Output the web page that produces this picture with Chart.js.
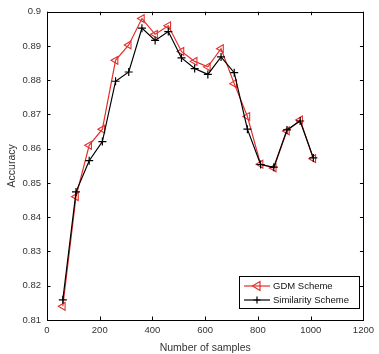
<!DOCTYPE html>
<html>
<head>
<meta charset="utf-8">
<script src="https://cdn.jsdelivr.net/npm/chart.js@4"></script>
<style>
  html, body { margin: 0; padding: 0; background: #fff; }
  #wrap { width: 379px; height: 354px; }
</style>
</head>
<body>
<div id="wrap"><canvas id="chart" width="379" height="354"></canvas></div>
<script>
// --- DATA ---
const samples = [60, 110, 160, 210, 260, 310, 360, 410, 460, 510, 560, 610, 660, 710, 760, 810, 860, 910, 960, 1010];
const gdmScheme = [0.814, 0.846, 0.861, 0.8657, 0.8858, 0.8903, 0.898, 0.8934, 0.8959, 0.8884, 0.8855, 0.8839, 0.8892, 0.879, 0.8694, 0.8555, 0.8544, 0.8652, 0.8684, 0.8571];
const similarityScheme = [0.8159, 0.8474, 0.8565, 0.8621, 0.8797, 0.8824, 0.8952, 0.8916, 0.8942, 0.8865, 0.8834, 0.8817, 0.8868, 0.8822, 0.8657, 0.8554, 0.8546, 0.8655, 0.8681, 0.8573];
const xTicks = [0, 200, 400, 600, 800, 1000, 1200];
const yTicks = [0.81, 0.82, 0.83, 0.84, 0.85, 0.86, 0.87, 0.88, 0.89, 0.9];
const seriesNames = ['GDM Scheme', 'Similarity Scheme'];

const RED = '#e3302c';
const FONT = 'Liberation Sans, Arial, sans-serif';
const TEXT = '#333';

function toPoints(ys) {
    return samples.map((x, i) => ({ x: x, y: ys[i] }));
}

// box around the plot, inward ticks on all four sides, and the legend
const matlabBox = {
    id: 'matlabBox',
    afterDraw(chart) {
        const ctx = chart.ctx;
        const a = chart.chartArea;
        const xs = chart.scales.x, ys = chart.scales.y;
        const tl = 3.5;
        ctx.save();
        ctx.strokeStyle = '#000';
        ctx.lineWidth = 1;
        ctx.beginPath();
        xTicks.forEach(v => {
            const px = Math.round(xs.getPixelForValue(v)) + 0.5;
            ctx.moveTo(px, a.bottom); ctx.lineTo(px, a.bottom - tl);
            ctx.moveTo(px, a.top); ctx.lineTo(px, a.top + tl);
        });
        yTicks.forEach(v => {
            const py = Math.round(ys.getPixelForValue(v)) + 0.5;
            ctx.moveTo(a.left, py); ctx.lineTo(a.left + tl, py);
            ctx.moveTo(a.right, py); ctx.lineTo(a.right - tl, py);
        });
        ctx.stroke();
        ctx.strokeRect(Math.round(a.left) + 0.5, Math.round(a.top) + 0.5,
            Math.round(a.right - a.left), Math.round(a.bottom - a.top));

        // legend
        const lx = 239, ly = 276, lw = 120, lh = 32;
        ctx.fillStyle = '#fff';
        ctx.fillRect(lx, ly, lw, lh);
        ctx.strokeRect(lx + 0.5, ly + 0.5, lw, lh);
        ctx.font = '9.5px ' + FONT;
        ctx.textBaseline = 'middle';
        ctx.textAlign = 'left';
        chart.data.datasets.forEach((ds, i) => {
            const y = ly + 10 + i * 14;
            ctx.strokeStyle = ds.borderColor;
            ctx.lineWidth = 1.2;
            ctx.beginPath();
            ctx.moveTo(lx + 5, y); ctx.lineTo(lx + 31, y);
            ctx.stroke();
            const mx = lx + 18;
            ctx.beginPath();
            if (i === 0) {
                ctx.moveTo(mx - 4.5, y);
                ctx.lineTo(mx + 3, y - 4.5);
                ctx.lineTo(mx + 3, y + 4.5);
                ctx.closePath();
            } else {
                ctx.moveTo(mx - 3.5, y); ctx.lineTo(mx + 3.5, y);
                ctx.moveTo(mx, y - 3.5); ctx.lineTo(mx, y + 3.5);
            }
            ctx.stroke();
            ctx.fillStyle = '#111';
            ctx.fillText(ds.label, lx + 34, y + 0.5);
        });
        ctx.restore();
    }
};

new Chart(document.getElementById('chart').getContext('2d'), {
    type: 'scatter',
    data: {
        datasets: [{
            label: seriesNames[0],
            data: toPoints(gdmScheme),
            showLine: true,
            borderColor: RED,
            backgroundColor: 'rgba(255,255,255,0)',
            borderWidth: 1.2,
            pointStyle: 'triangle',
            pointRotation: -90,
            pointRadius: 4.5,
            pointBorderWidth: 1.1,
            order: 1
        }, {
            label: seriesNames[1],
            data: toPoints(similarityScheme),
            showLine: true,
            borderColor: '#000',
            backgroundColor: '#000',
            borderWidth: 1.2,
            pointStyle: 'cross',
            pointRadius: 4,
            pointBorderWidth: 1.2,
            order: 0
        }]
    },
    options: {
        responsive: false,
        animation: false,
        layout: { padding: { top: 9, right: 8, left: 0, bottom: 0 } },
        plugins: {
            legend: { display: false },
            tooltip: { enabled: false }
        },
        scales: {
            x: {
                type: 'linear',
                min: 0, max: 1200,
                afterBuildTicks: s => { s.ticks = xTicks.map(v => ({ value: v })); },
                afterFit: s => { s.height = 34; },
                grid: { display: false, drawTicks: false },
                border: { display: false },
                ticks: { font: { family: FONT, size: 9.5 }, color: TEXT, padding: 5, maxRotation: 0, callback: v => String(v) },
                title: { display: true, text: 'Number of samples', font: { family: FONT, size: 10.5 }, color: TEXT, padding: { top: 1, bottom: 0 } }
            },
            y: {
                type: 'linear',
                min: 0.81, max: 0.9,
                afterBuildTicks: s => { s.ticks = yTicks.map(v => ({ value: v })); },
                afterFit: s => { s.width = 47; },
                grid: { display: false, drawTicks: false },
                border: { display: false },
                ticks: { font: { family: FONT, size: 9.5 }, color: TEXT, padding: 6, callback: v => String(+v.toFixed(2)) },
                title: { display: true, text: 'Accuracy', font: { family: FONT, size: 10.5 }, color: TEXT, padding: { top: 6, bottom: 0 } }
            }
        }
    },
    plugins: [matlabBox]
});
</script>
</body>
</html>
